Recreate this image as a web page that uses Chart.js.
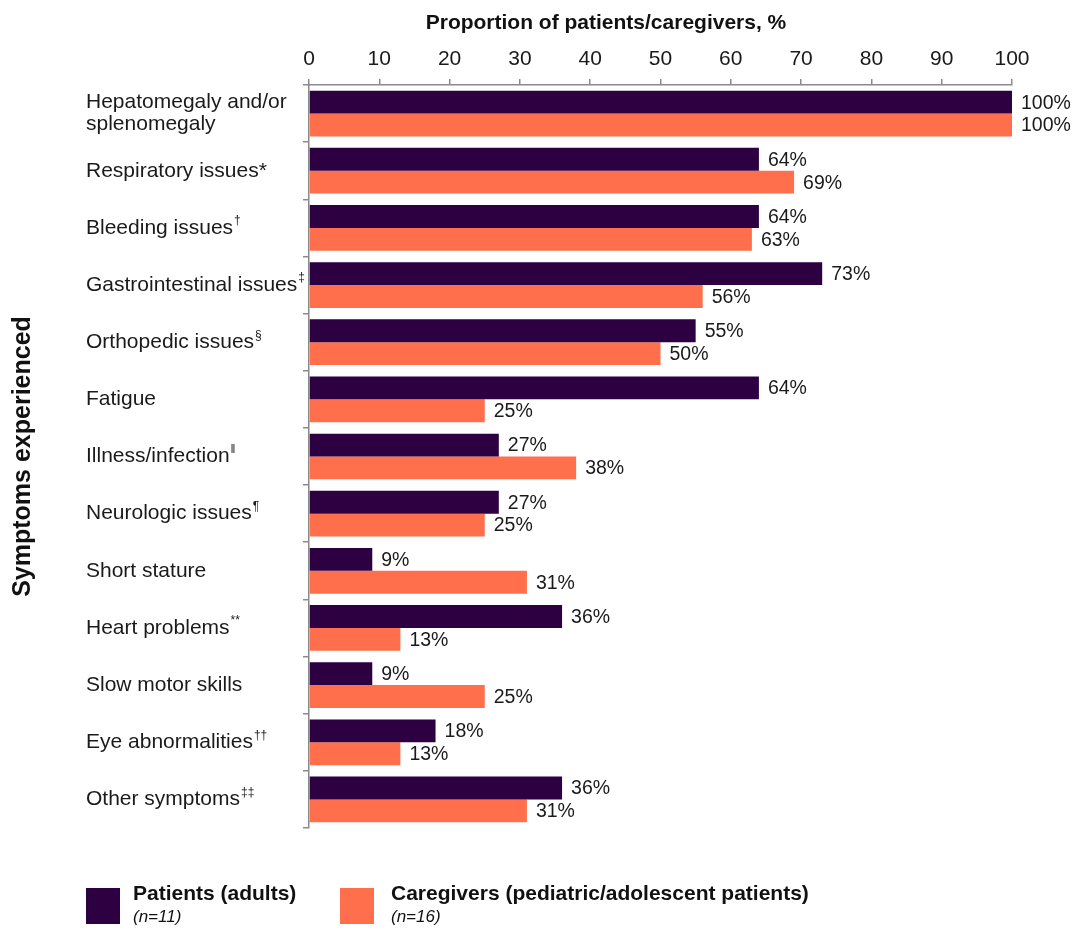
<!DOCTYPE html>
<html>
<head>
<meta charset="utf-8">
<script src="https://cdn.jsdelivr.net/npm/chart.js@4.4.0/dist/chart.umd.min.js"></script>
<style>
  body { margin: 0; background: #fff; }
  #wrap { width: 1072px; height: 930px; }
</style>
</head>
<body>
<div id="wrap"><canvas id="symptomChart" width="1072" height="930"></canvas></div>
<script>
// symptom names (multi-line where wrapped) and their footnote marks
const categories = [
    ['Hepatomegaly and/or', 'splenomegaly'],
    ['Respiratory issues*'],
    ['Bleeding issues'],
    ['Gastrointestinal issues'],
    ['Orthopedic issues'],
    ['Fatigue'],
    ['Illness/infection'],
    ['Neurologic issues'],
    ['Short stature'],
    ['Heart problems'],
    ['Slow motor skills'],
    ['Eye abnormalities'],
    ['Other symptoms']
];
const footnotes = ['', '', '†', '‡', '§', '', '‖', '¶', '', '**', '', '††', '‡‡'];

const patients   = [100, 64, 64, 73, 55, 64, 27, 27, 9, 36, 9, 18, 36];
const caregivers = [100, 69, 63, 56, 50, 25, 38, 25, 31, 13, 25, 13, 31];

const groupNames = ['Patients (adults)', 'Caregivers (pediatric/adolescent patients)'];
const groupSizes = ['(n=11)', '(n=16)'];
const groupColors = ['#2c0041', '#ff6f4b'];

const xMin = 0, xMax = 100, xStep = 10;
const xTitle = 'Proportion of patients/caregivers, %';

const FONT = "'Liberation Sans', Arial, Helvetica, sans-serif";
const AXIS_GREY = '#8a8a8a';

// category names drawn by hand so the footnote marks can be superscript
const symptomLabels = {
    id: 'symptomLabels',
    afterDraw(chart) {
        const ctx = chart.ctx;
        const y = chart.scales.y;
        ctx.save();
        ctx.fillStyle = '#1a1a1a';
        ctx.textBaseline = 'middle';
        ctx.textAlign = 'left';
        categories.forEach((lines, i) => {
            const cy = y.getPixelForValue(i);
            const lh = 22;
            const first = cy - (lines.length - 1) * lh / 2;
            lines.forEach((txt, j) => {
                const ly = first + j * lh;
                ctx.font = '21px ' + FONT;
                ctx.fillText(txt, 86, ly);
                if (j === lines.length - 1 && footnotes[i]) {
                    const w = ctx.measureText(txt).width;
                    ctx.font = '12px ' + FONT;
                    ctx.fillText(footnotes[i], 86 + w + 1, ly - 7);
                }
            });
        });
        // axis title over the value axis
        ctx.fillStyle = '#111';
        ctx.textAlign = 'center';
        ctx.font = 'bold 21px ' + FONT;
        ctx.fillText(xTitle, 606, 23);
        ctx.restore();
    }
};

// percentage at the end of every bar
const valueLabels = {
    id: 'valueLabels',
    afterDatasetsDraw(chart) {
        const ctx = chart.ctx;
        ctx.save();
        ctx.fillStyle = '#1a1a1a';
        ctx.font = '19.5px ' + FONT;
        ctx.textBaseline = 'middle';
        ctx.textAlign = 'left';
        chart.data.datasets.forEach((ds, di) => {
            chart.getDatasetMeta(di).data.forEach((bar, i) => {
                ctx.fillText(ds.data[i] + '%', bar.x + 9, bar.y + 1);
            });
        });
        ctx.restore();
    }
};

// legend under the plot: swatch, bold group name, italic n
const bottomLegend = {
    id: 'bottomLegend',
    afterDraw(chart) {
        const ctx = chart.ctx;
        const xs = [86, 340];
        const textX = [133, 391];
        ctx.save();
        chart.data.datasets.forEach((ds, i) => {
            ctx.fillStyle = ds.backgroundColor;
            ctx.fillRect(xs[i], 888, 34, 36);
            ctx.fillStyle = '#111';
            ctx.textBaseline = 'alphabetic';
            ctx.font = 'bold 21px ' + FONT;
            ctx.fillText(ds.label, textX[i], 900);
            ctx.font = 'italic 17px ' + FONT;
            ctx.fillText(groupSizes[i], textX[i], 922);
        });
        ctx.restore();
    }
};

const ctx = document.getElementById('symptomChart');
new Chart(ctx, {
    type: 'bar',
    data: {
        labels: categories,
        datasets: [
            {
                label: groupNames[0],
                data: patients,
                backgroundColor: groupColors[0],
                borderWidth: 0
            },
            {
                label: groupNames[1],
                data: caregivers,
                backgroundColor: groupColors[1],
                borderWidth: 0
            }
        ]
    },
    options: {
        indexAxis: 'y',
        responsive: false,
        animation: false,
        categoryPercentage: 0.8,
        barPercentage: 1.0,
        layout: {
            padding: { left: 0, right: 60, top: 0, bottom: 102 }
        },
        plugins: {
            legend: { display: false },
            tooltip: { enabled: false }
        },
        scales: {
            x: {
                position: 'top',
                min: xMin,
                max: xMax,
                afterFit: (scale) => { scale.height = 85; },
                ticks: {
                    stepSize: xStep,
                    color: '#1a1a1a',
                    padding: 7,
                    font: { family: FONT, size: 21 }
                },
                grid: {
                    drawOnChartArea: false,
                    tickLength: 6,
                    color: AXIS_GREY,
                    lineWidth: 1.5
                },
                border: { color: AXIS_GREY, width: 1.5 }
            },
            y: {
                afterFit: (scale) => { scale.width = 309; },
                ticks: { display: false },
                grid: {
                    drawOnChartArea: false,
                    offset: true,
                    tickLength: 6,
                    color: AXIS_GREY,
                    lineWidth: 1.5
                },
                border: { color: AXIS_GREY, width: 1.5 },
                title: {
                    display: true,
                    text: 'Symptoms experienced',
                    color: '#111',
                    padding: { top: 8, bottom: 0 },
                    font: { family: FONT, size: 25, weight: 'bold' }
                }
            }
        }
    },
    plugins: [symptomLabels, valueLabels, bottomLegend]
});
</script>
</body>
</html>
